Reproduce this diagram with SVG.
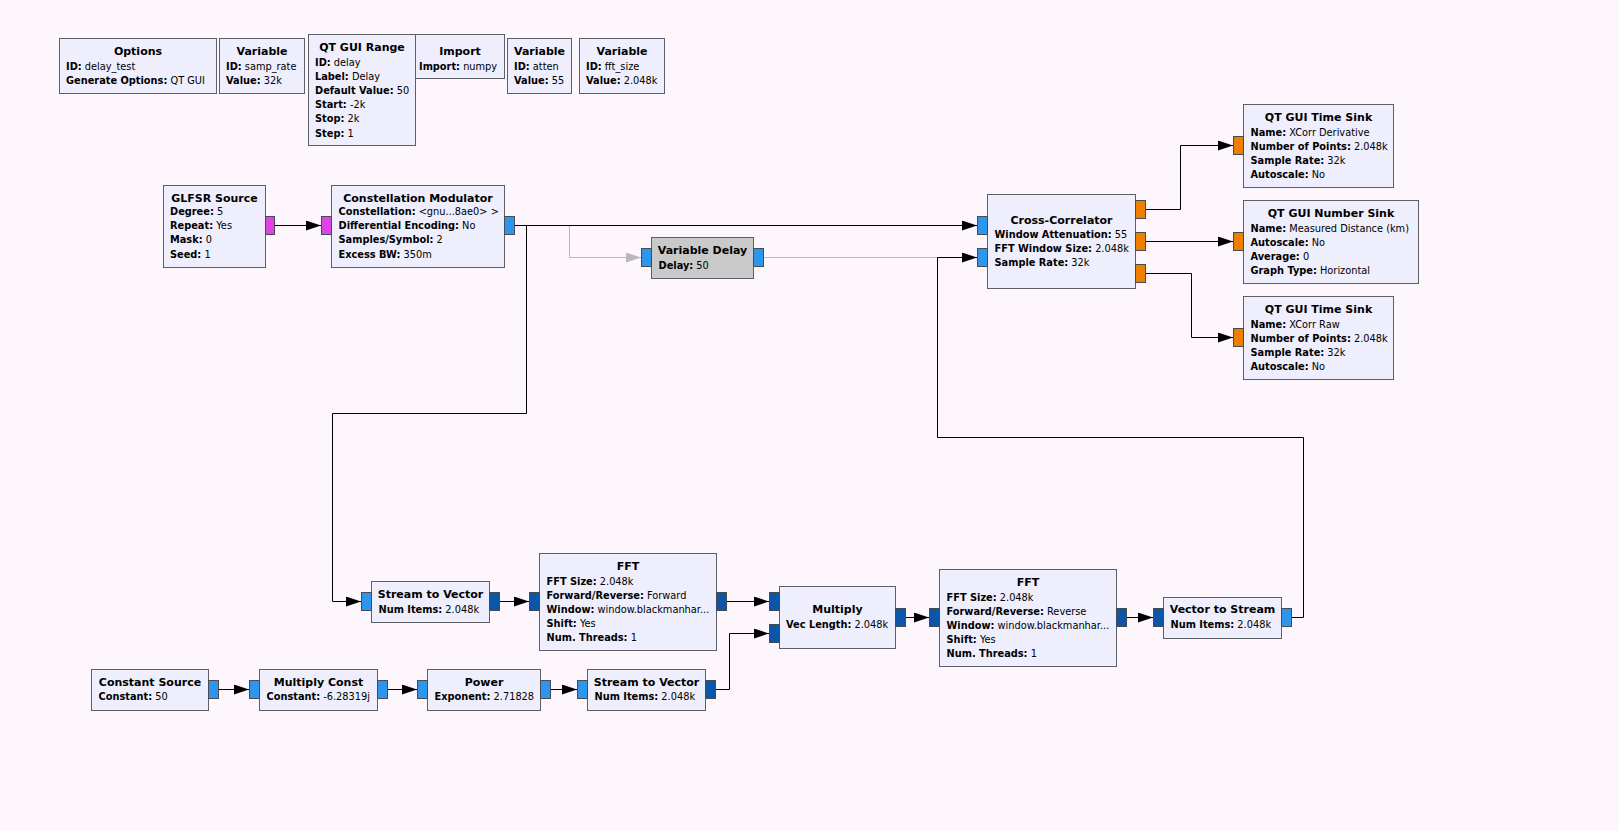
<svg xmlns="http://www.w3.org/2000/svg" width="1619" height="831" viewBox="0 0 1619 831">
<style>
text{font-family:"DejaVu Sans","Liberation Sans",sans-serif;font-size:9.8px;fill:#000}
.t{font-weight:bold;text-anchor:middle;font-size:11px}
.k{font-weight:bold}
.blk{fill:#EEEEFC;stroke:#5E5E66;stroke-width:1}
.dis{fill:#C9C9C9;stroke:#5E5E66;stroke-width:1}
.pc{fill:#2E95EC;stroke:#4A4A55;stroke-width:1}
.pv{fill:#0B56A8;stroke:#4A4A55;stroke-width:1}
.pf{fill:#EF7D00;stroke:#4A4A55;stroke-width:1}
.pb{fill:#DD44E6;stroke:#4A4A55;stroke-width:1}
.c{fill:none;stroke:#000;stroke-width:1;marker-end:url(#ah)}
.cg{fill:none;stroke:#B8B8B8;stroke-width:1;marker-end:url(#ahg)}
</style>
<defs>
<marker id="ah" markerUnits="userSpaceOnUse" markerWidth="16" markerHeight="10" refX="15" refY="5" orient="auto"><path d="M0,0 L15,5 L0,10 z" fill="#000"/></marker>
<marker id="ahg" markerUnits="userSpaceOnUse" markerWidth="16" markerHeight="10" refX="15" refY="5" orient="auto"><path d="M0,0 L15,5 L0,10 z" fill="#B8B8B8"/></marker>
</defs>
<rect width="1619" height="831" fill="#FDF7FD"/>

<g id="connectors">
<path class="cg" d="M515,225.5 H569.5 V257.5 H641"/>
<path fill="none" stroke="#B8B8B8" d="M764,257.5 H960"/>
<path class="c" d="M275,225.5 H321"/>
<path class="c" d="M515,225.5 H977"/>
<path class="c" d="M515,225.5 H526.5 V413.5 H332.5 V601.5 H361"/>
<path class="c" d="M1146,209.5 H1180.5 V145.5 H1233"/>
<path class="c" d="M1146,241.5 H1233"/>
<path class="c" d="M1146,273.5 H1191.5 V337.5 H1233"/>
<path class="c" d="M500,601.5 H529"/>
<path class="c" d="M727,601.5 H769"/>
<path class="c" d="M906,617.5 H929"/>
<path class="c" d="M1127,617.5 H1153"/>
<path class="c" d="M1292,617.5 H1303.5 V437.5 H937.5 V257.5 H977"/>
<path class="c" d="M219,689.5 H249"/>
<path class="c" d="M388,689.5 H417"/>
<path class="c" d="M551,689.5 H577"/>
<path class="c" d="M716,689.5 H729.5 V633.5 H769"/>
</g>

<g id="options">
<rect class="blk" x="59.5" y="38.5" width="157" height="55"/>
<text class="t" x="138" y="55">Options</text>
<text x="66" y="69.5"><tspan class="k">ID:</tspan> delay_test</text>
<text x="66" y="83.7"><tspan class="k">Generate Options:</tspan> QT GUI</text>
</g>
<g id="var_samp_rate">
<rect class="blk" x="219.5" y="38.5" width="85" height="55"/>
<text class="t" x="262" y="55">Variable</text>
<text x="226" y="69.5"><tspan class="k">ID:</tspan> samp_rate</text>
<text x="226" y="83.7"><tspan class="k">Value:</tspan> 32k</text>
</g>
<g id="qt_gui_range">
<rect class="blk" x="308.5" y="34.5" width="107" height="111"/>
<text class="t" x="362" y="51">QT GUI Range</text>
<text x="315" y="65.5"><tspan class="k">ID:</tspan> delay</text>
<text x="315" y="79.7"><tspan class="k">Label:</tspan> Delay</text>
<text x="315" y="93.9"><tspan class="k">Default Value:</tspan> 50</text>
<text x="315" y="108.1"><tspan class="k">Start:</tspan> -2k</text>
<text x="315" y="122.3"><tspan class="k">Stop:</tspan> 2k</text>
<text x="315" y="136.5"><tspan class="k">Step:</tspan> 1</text>
</g>
<g id="import">
<rect class="blk" x="415.5" y="34.5" width="89" height="44"/>
<text class="t" x="460" y="54.7">Import</text>
<text x="419" y="69.5"><tspan class="k">Import:</tspan> numpy</text>
</g>
<g id="var_atten">
<rect class="blk" x="507.5" y="38.5" width="64" height="55"/>
<text class="t" x="539.5" y="55">Variable</text>
<text x="514" y="69.5"><tspan class="k">ID:</tspan> atten</text>
<text x="514" y="83.7"><tspan class="k">Value:</tspan> 55</text>
</g>
<g id="var_fft_size">
<rect class="blk" x="579.5" y="38.5" width="85" height="55"/>
<text class="t" x="622" y="55">Variable</text>
<text x="586" y="69.5"><tspan class="k">ID:</tspan> fft_size</text>
<text x="586" y="83.7"><tspan class="k">Value:</tspan> 2.048k</text>
</g>

<g id="glfsr_source">
<rect class="blk" x="163.5" y="185.5" width="102" height="82"/>
<rect class="pb" x="265.5" y="216.5" width="9" height="18"/>
<text class="t" x="214.5" y="201.5">GLFSR Source</text>
<text x="170" y="215"><tspan class="k">Degree:</tspan> 5</text>
<text x="170" y="229.2"><tspan class="k">Repeat:</tspan> Yes</text>
<text x="170" y="243.4"><tspan class="k">Mask:</tspan> 0</text>
<text x="170" y="257.6"><tspan class="k">Seed:</tspan> 1</text>
</g>
<g id="constellation_modulator">
<rect class="blk" x="331.5" y="185.5" width="173" height="82"/>
<rect class="pb" x="321.5" y="216.5" width="10" height="18"/>
<rect class="pc" x="504.5" y="216.5" width="10" height="18"/>
<text class="t" x="418" y="201.5">Constellation Modulator</text>
<text x="338.5" y="215"><tspan class="k">Constellation:</tspan> &lt;gnu...8ae0&gt; &gt;</text>
<text x="338.5" y="229.2"><tspan class="k">Differential Encoding:</tspan> No</text>
<text x="338.5" y="243.4"><tspan class="k">Samples/Symbol:</tspan> 2</text>
<text x="338.5" y="257.6"><tspan class="k">Excess BW:</tspan> 350m</text>
</g>
<g id="variable_delay">
<rect class="dis" x="651.5" y="237.5" width="102" height="41"/>
<rect class="pc" x="641.5" y="248.5" width="10" height="18"/>
<rect class="pc" x="753.5" y="248.5" width="10" height="18"/>
<text class="t" x="702.5" y="254">Variable Delay</text>
<text x="658.5" y="269"><tspan class="k">Delay:</tspan> 50</text>
</g>
<g id="cross_correlator">
<rect class="blk" x="987.5" y="194.5" width="148" height="94"/>
<rect class="pc" x="977.5" y="216.5" width="10" height="18"/>
<rect class="pc" x="977.5" y="248.5" width="10" height="18"/>
<rect class="pf" x="1135.5" y="200.5" width="10" height="18"/>
<rect class="pf" x="1135.5" y="232.5" width="10" height="18"/>
<rect class="pf" x="1135.5" y="264.5" width="10" height="18"/>
<text class="t" x="1061.5" y="223.5">Cross-Correlator</text>
<text x="994.5" y="237.8"><tspan class="k">Window Attenuation:</tspan> 55</text>
<text x="994.5" y="251.9"><tspan class="k">FFT Window Size:</tspan> 2.048k</text>
<text x="994.5" y="266"><tspan class="k">Sample Rate:</tspan> 32k</text>
</g>
<g id="time_sink_derivative">
<rect class="blk" x="1243.5" y="104.5" width="150" height="83"/>
<rect class="pf" x="1233.5" y="136.5" width="10" height="18"/>
<text class="t" x="1318.5" y="121">QT GUI Time Sink</text>
<text x="1250.5" y="135.7"><tspan class="k">Name:</tspan> XCorr Derivative</text>
<text x="1250.5" y="149.8"><tspan class="k">Number of Points:</tspan> 2.048k</text>
<text x="1250.5" y="163.9"><tspan class="k">Sample Rate:</tspan> 32k</text>
<text x="1250.5" y="178"><tspan class="k">Autoscale:</tspan> No</text>
</g>
<g id="number_sink">
<rect class="blk" x="1243.5" y="200.5" width="175" height="83"/>
<rect class="pf" x="1233.5" y="232.5" width="10" height="18"/>
<text class="t" x="1331" y="217">QT GUI Number Sink</text>
<text x="1250.5" y="231.7"><tspan class="k">Name:</tspan> Measured Distance (km)</text>
<text x="1250.5" y="245.8"><tspan class="k">Autoscale:</tspan> No</text>
<text x="1250.5" y="259.9"><tspan class="k">Average:</tspan> 0</text>
<text x="1250.5" y="274"><tspan class="k">Graph Type:</tspan> Horizontal</text>
</g>
<g id="time_sink_raw">
<rect class="blk" x="1243.5" y="296.5" width="150" height="83"/>
<rect class="pf" x="1233.5" y="328.5" width="10" height="18"/>
<text class="t" x="1318.5" y="313">QT GUI Time Sink</text>
<text x="1250.5" y="327.7"><tspan class="k">Name:</tspan> XCorr Raw</text>
<text x="1250.5" y="341.8"><tspan class="k">Number of Points:</tspan> 2.048k</text>
<text x="1250.5" y="355.9"><tspan class="k">Sample Rate:</tspan> 32k</text>
<text x="1250.5" y="370"><tspan class="k">Autoscale:</tspan> No</text>
</g>

<g id="stream_to_vector_1">
<rect class="blk" x="371.5" y="581.5" width="118" height="41"/>
<rect class="pc" x="361.5" y="592.5" width="10" height="18"/>
<rect class="pv" x="489.5" y="592.5" width="10" height="18"/>
<text class="t" x="430.5" y="598.3">Stream to Vector</text>
<text x="378.5" y="612.7"><tspan class="k">Num Items:</tspan> 2.048k</text>
</g>
<g id="fft_forward">
<rect class="blk" x="539.5" y="553.5" width="177" height="97"/>
<rect class="pv" x="529.5" y="592.5" width="10" height="18"/>
<rect class="pv" x="716.5" y="592.5" width="10" height="18"/>
<text class="t" x="628" y="570">FFT</text>
<text x="546.5" y="584.5"><tspan class="k">FFT Size:</tspan> 2.048k</text>
<text x="546.5" y="598.6"><tspan class="k">Forward/Reverse:</tspan> Forward</text>
<text x="546.5" y="612.7"><tspan class="k">Window:</tspan> window.blackmanhar...</text>
<text x="546.5" y="626.8"><tspan class="k">Shift:</tspan> Yes</text>
<text x="546.5" y="640.9"><tspan class="k">Num. Threads:</tspan> 1</text>
</g>
<g id="multiply">
<rect class="blk" x="779.5" y="586.5" width="116" height="62"/>
<rect class="pv" x="769.5" y="592.5" width="10" height="18"/>
<rect class="pv" x="769.5" y="624.5" width="10" height="18"/>
<rect class="pv" x="895.5" y="608.5" width="10" height="18"/>
<text class="t" x="837.5" y="612.7">Multiply</text>
<text x="786" y="627.7"><tspan class="k">Vec Length:</tspan> 2.048k</text>
</g>
<g id="fft_reverse">
<rect class="blk" x="939.5" y="569.5" width="177" height="97"/>
<rect class="pv" x="929.5" y="608.5" width="10" height="18"/>
<rect class="pv" x="1116.5" y="608.5" width="10" height="18"/>
<text class="t" x="1028" y="586">FFT</text>
<text x="946.5" y="600.5"><tspan class="k">FFT Size:</tspan> 2.048k</text>
<text x="946.5" y="614.6"><tspan class="k">Forward/Reverse:</tspan> Reverse</text>
<text x="946.5" y="628.7"><tspan class="k">Window:</tspan> window.blackmanhar...</text>
<text x="946.5" y="642.8"><tspan class="k">Shift:</tspan> Yes</text>
<text x="946.5" y="656.9"><tspan class="k">Num. Threads:</tspan> 1</text>
</g>
<g id="vector_to_stream">
<rect class="blk" x="1163.5" y="597.5" width="118" height="41"/>
<rect class="pv" x="1153.5" y="608.5" width="10" height="18"/>
<rect class="pc" x="1281.5" y="608.5" width="10" height="18"/>
<text class="t" x="1222.5" y="613.3">Vector to Stream</text>
<text x="1170.5" y="627.7"><tspan class="k">Num Items:</tspan> 2.048k</text>
</g>

<g id="constant_source">
<rect class="blk" x="91.5" y="669.5" width="117" height="41"/>
<rect class="pc" x="208.5" y="680.5" width="10" height="18"/>
<text class="t" x="150" y="685.7">Constant Source</text>
<text x="98.5" y="700.3"><tspan class="k">Constant:</tspan> 50</text>
</g>
<g id="multiply_const">
<rect class="blk" x="259.5" y="669.5" width="118" height="41"/>
<rect class="pc" x="249.5" y="680.5" width="10" height="18"/>
<rect class="pc" x="377.5" y="680.5" width="10" height="18"/>
<text class="t" x="318.5" y="685.7">Multiply Const</text>
<text x="266.5" y="700.3"><tspan class="k">Constant:</tspan> -6.28319j</text>
</g>
<g id="power">
<rect class="blk" x="427.5" y="669.5" width="113" height="41"/>
<rect class="pc" x="417.5" y="680.5" width="10" height="18"/>
<rect class="pc" x="540.5" y="680.5" width="10" height="18"/>
<text class="t" x="484" y="685.7">Power</text>
<text x="434.5" y="700.3"><tspan class="k">Exponent:</tspan> 2.71828</text>
</g>
<g id="stream_to_vector_2">
<rect class="blk" x="587.5" y="669.5" width="118" height="41"/>
<rect class="pc" x="577.5" y="680.5" width="10" height="18"/>
<rect class="pv" x="705.5" y="680.5" width="10" height="18"/>
<text class="t" x="646.5" y="685.7">Stream to Vector</text>
<text x="594.5" y="700.3"><tspan class="k">Num Items:</tspan> 2.048k</text>
</g>
</svg>
